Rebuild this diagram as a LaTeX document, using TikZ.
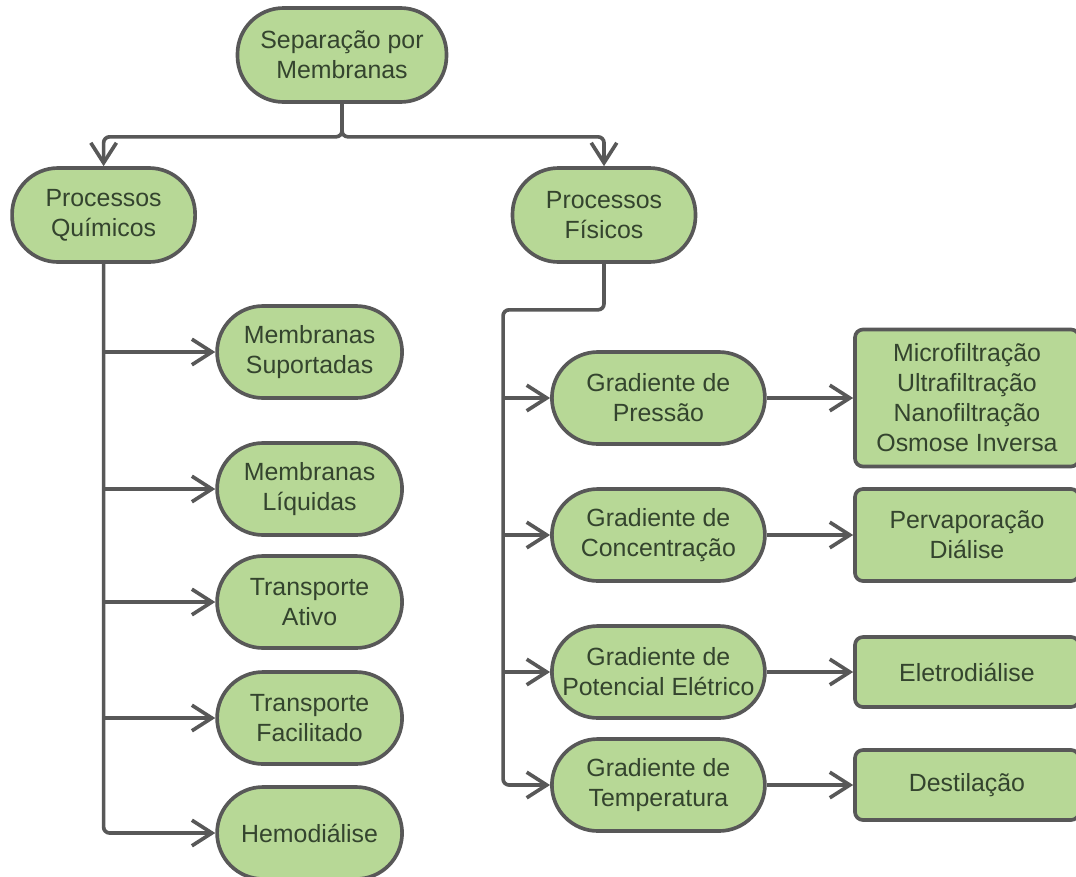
\documentclass[tikz,border=0pt]{standalone}
\usepackage{fontspec}
\setmainfont{Liberation Sans}
\usetikzlibrary{arrows.meta}
\definecolor{nodefill}{RGB}{183,216,150}
\definecolor{linegray}{RGB}{88,88,88}
\definecolor{textgreen}{RGB}{52,68,46}

\begin{document}
\begin{tikzpicture}[node distance=1cm, color=linegray, line width=2.6pt,
  >={Straight Barb[length=0.5cm,width=0.64cm]}]
  \tikzstyle{pill}=[draw=linegray, fill=nodefill, rounded corners=1.15cm, align=center,
    text=textgreen, font=\fontsize{17.7}{21.3}\selectfont, inner sep=0pt, minimum height=2.3cm]
  \tikzstyle{resbox}=[draw=linegray, fill=nodefill, rounded corners=0.2cm, align=center,
    text=textgreen, font=\fontsize{17.7}{21.3}\selectfont, inner sep=0pt, minimum width=5.6cm]
  \useasboundingbox (0,0) rectangle (26.9,-21.9);

  \node[pill, minimum width=5.225cm, minimum height=2.35cm] (sep) at (8.55,-1.375) {Separação por\\Membranas};
  \node[pill, minimum width=4.575cm, minimum height=2.35cm, node distance=4cm, below of=sep, xshift=-5.96cm] (quim) {Processos\\Químicos};
  \node[pill, minimum width=4.575cm, minimum height=2.35cm, node distance=12.51cm, right of=quim] (fis) {Processos\\Físicos};

  % processos quimicos
  \node[pill, minimum width=4.625cm, node distance=3.425cm, below of=quim, xshift=5.15cm] (memsup) {Membranas\\Suportadas};
  \node[pill, minimum width=4.625cm, node distance=3.425cm, below of=memsup] (memliq) {Membranas\\Líquidas};
  \node[pill, minimum width=4.625cm, node distance=2.825cm, below of=memliq] (ativo) {Transporte\\Ativo};
  \node[pill, minimum width=4.625cm, node distance=2.9cm, below of=ativo] (facil) {Transporte\\Facilitado};
  \node[pill, minimum width=4.625cm, node distance=2.875cm, below of=facil] (hemo) {Hemodiálise};

  % processos fisicos
  \node[pill, minimum width=5.325cm, node distance=4.575cm, below of=fis, xshift=1.36cm] (pres) {Gradiente de\\Pressão};
  \node[pill, minimum width=5.325cm, node distance=3.425cm, below of=pres] (conc) {Gradiente de\\Concentração};
  \node[pill, minimum width=5.325cm, node distance=3.425cm, below of=conc] (pot) {Gradiente de\\Potencial Elétrico};
  \node[pill, minimum width=5.325cm, node distance=2.825cm, below of=pot] (temp) {Gradiente de\\Temperatura};

  % exemplos
  \node[resbox, minimum height=3.425cm, node distance=7.715cm, right of=pres] (micro) {Microfiltração\\Ultrafiltração\\Nanofiltração\\Osmose Inversa};
  \node[resbox, minimum height=2.3cm, node distance=7.715cm, right of=conc] (perva) {Pervaporação\\Diálise};
  \node[resbox, minimum height=1.75cm, node distance=7.715cm, right of=pot] (eletro) {Eletrodiálise};
  \node[resbox, minimum height=1.75cm, node distance=7.715cm, right of=temp] (destil) {Destilação};

  % edges
  \draw[->, rounded corners=0.15cm] (sep.south) -- ++(0,-0.825) -| (quim.north);
  \draw[->, rounded corners=0.15cm] (sep.south) -- ++(0,-0.825) -| (fis.north);

  \draw[->, rounded corners=0.15cm] (quim.south) |- (hemo.west);
  \draw[->] (quim.south |- memsup.west) -- (memsup.west);
  \draw[->] (quim.south |- memliq.west) -- (memliq.west);
  \draw[->] (quim.south |- ativo.west) -- (ativo.west);
  \draw[->] (quim.south |- facil.west) -- (facil.west);

  \draw[->, rounded corners=0.15cm] (fis.south) -- ++(0,-1.15) -| ([xshift=-1.175cm]pres.west) |- (temp.west);
  \draw[->] ([xshift=-1.175cm]pres.west) -- (pres.west);
  \draw[->] ([xshift=-1.175cm]conc.west) -- (conc.west);
  \draw[->] ([xshift=-1.175cm]pot.west) -- (pot.west);

  \draw[->] (pres.east) -- (micro.west);
  \draw[->] (conc.east) -- (perva.west);
  \draw[->] (pot.east) -- (eletro.west);
  \draw[->] (temp.east) -- (destil.west);

\end{tikzpicture}
\end{document}
